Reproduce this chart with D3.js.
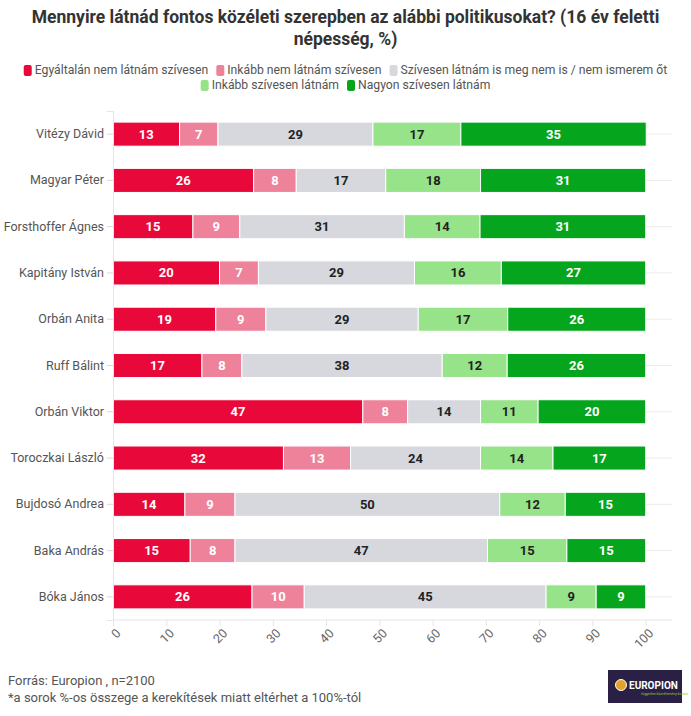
<!DOCTYPE html>
<html>
<head>
<meta charset="utf-8">
<script src="https://cdn.jsdelivr.net/npm/d3@7"></script>
<style>
  body { margin: 0; background: #fff; }
  text { font-family: Roboto, "Noto Sans", sans-serif; }
</style>
</head>
<body>
<div id="chart"></div>
<script>
const politicians = ["Vitézy Dávid", "Magyar Péter", "Forsthoffer Ágnes", "Kapitány István",
    "Orbán Anita", "Ruff Bálint", "Orbán Viktor", "Toroczkai László",
    "Bujdosó Andrea", "Baka András", "Bóka János"]

const seriesNames = ["Egyáltalán nem látnám szívesen", "Inkább nem látnám szívesen",
    "Szívesen látnám is meg nem is / nem ismerem őt", "Inkább szívesen látnám", "Nagyon szívesen látnám"]

const seriesColors = ["#e8083a", "#ee829b", "#d6d8de", "#97e389", "#05a51d"]
const labelColors = ["#fff", "#fff", "#222", "#222", "#fff"]

// values per series, one per politician (same order as above)
const notAtAll = [12.5, 26.4, 15.0, 20.0, 19.3, 16.7, 46.9, 32.0, 13.5, 14.5, 26.1]
const ratherNot = [7.2, 8.0, 8.8, 7.3, 9.4, 7.5, 8.4, 12.6, 9.4, 8.4, 9.8]
const neutral = [29.1, 16.8, 30.9, 29.3, 28.6, 37.6, 13.7, 24.4, 49.7, 47.4, 45.4]
const rather = [16.5, 17.8, 14.2, 16.3, 16.8, 12.2, 10.8, 13.6, 12.3, 14.9, 9.4]
const veryMuch = [34.8, 31.0, 31.1, 27.1, 25.9, 26.0, 20.2, 17.4, 15.1, 14.8, 9.3]

const xTicks = [0, 10, 20, 30, 40, 50, 60, 70, 80, 90, 100]

const W = 691, H = 716
const svg = d3.select("#chart").append("svg")
    .attr("width", W).attr("height", H)

// title
svg.append("text")
    .attr("x", W / 2).attr("y", 23)
    .attr("text-anchor", "middle")
    .attr("font-size", 17.5).attr("font-weight", "bold").attr("fill", "#333")
    .text("Mennyire látnád fontos közéleti szerepben az alábbi politikusokat? (16 év feletti")
svg.append("text")
    .attr("x", W / 2).attr("y", 45)
    .attr("text-anchor", "middle")
    .attr("font-size", 17.5).attr("font-weight", "bold").attr("fill", "#333")
    .text("népesség, %)")

// legend, two centred rows
const legendRows = [[0, 1, 2], [3, 4]]
legendRows.forEach((row, ri) => {
    const g = svg.append("g").attr("transform", `translate(0, ${74 + ri * 15})`)
    let x = 0
    row.forEach(i => {
        const item = g.append("g").attr("transform", `translate(${x}, 0)`)
        item.append("rect")
            .attr("x", 0).attr("y", -9).attr("width", 8).attr("height", 11)
            .attr("rx", 2).attr("fill", seriesColors[i])
        const t = item.append("text")
            .attr("x", 11).attr("y", 0)
            .attr("font-size", 12.2).attr("fill", "#555")
            .text(seriesNames[i])
        x += 11 + t.node().getComputedTextLength() + 8
    })
    const width = x - 8
    g.attr("transform", `translate(${(W - width) / 2}, ${74 + ri * 15})`)
})

const margin = { left: 113, top: 111, bottom: 620 }

const xScale = d3.scaleLinear()
    .domain([0, 100])
    .range([margin.left, 645.7])

const yScale = d3.scaleBand()
    .domain(politicians)
    .range([margin.top, margin.bottom])
    .paddingInner(0.48)
    .paddingOuter(0.24)

const plotRight = xScale(105)

// horizontal row lines
svg.append("g").selectAll("line")
    .data(politicians)
    .join("line")
    .attr("x1", margin.left).attr("x2", plotRight)
    .attr("y1", d => yScale(d) + yScale.bandwidth() / 2)
    .attr("y2", d => yScale(d) + yScale.bandwidth() / 2)
    .attr("stroke", "#ebebeb")

// stacked data
const rows = politicians.map((name, i) => ({
    name,
    s0: notAtAll[i], s1: ratherNot[i], s2: neutral[i], s3: rather[i], s4: veryMuch[i]
}))
const stack = d3.stack().keys(["s0", "s1", "s2", "s3", "s4"])(rows)

const layers = svg.append("g").selectAll("g")
    .data(stack)
    .join("g")
    .attr("fill", (d, i) => seriesColors[i])

layers.selectAll("rect")
    .data(d => d)
    .join("rect")
    .attr("x", d => xScale(d[0]))
    .attr("y", d => yScale(d.data.name))
    .attr("width", d => xScale(d[1]) - xScale(d[0]))
    .attr("height", yScale.bandwidth())
    .attr("stroke", "#fff")
    .attr("stroke-width", 1)

stack.forEach((layer, i) => {
    svg.append("g").selectAll("text")
        .data(layer)
        .join("text")
        .attr("x", d => (xScale(d[0]) + xScale(d[1])) / 2)
        .attr("y", d => yScale(d.data.name) + yScale.bandwidth() / 2 + 4.5)
        .attr("text-anchor", "middle")
        .attr("font-size", 13).attr("font-weight", "bold")
        .attr("fill", labelColors[i])
        .text(d => Math.round(d[1] - d[0]))
})

// y axis
const yAxis = svg.append("g")
    .attr("transform", `translate(${margin.left}, 0)`)
    .call(d3.axisLeft(yScale).tickSize(6).tickPadding(3))
yAxis.select(".domain").attr("stroke", "#e6e6e6")
yAxis.selectAll(".tick line").attr("stroke", "#d8d8d8")
yAxis.selectAll(".tick text")
    .attr("font-size", 12.5).attr("fill", "#555")
    .attr("font-family", "Roboto, sans-serif")

// x axis
const xAxis = svg.append("g")
    .attr("transform", `translate(0, ${margin.bottom})`)
    .call(d3.axisBottom(xScale).tickValues(xTicks).tickSize(6))
xAxis.select(".domain").remove()
xAxis.append("line")
    .attr("x1", margin.left).attr("x2", plotRight)
    .attr("stroke", "#e6e6e6")
xAxis.selectAll(".tick line").attr("stroke", "#e6e6e6")
xAxis.selectAll(".tick text")
    .attr("font-size", 12.5).attr("fill", "#666")
    .attr("font-family", "Roboto, sans-serif")
    .attr("text-anchor", "end")
    .attr("x", 0).attr("y", 0)
    .attr("dy", "0.35em")
    .attr("transform", "translate(5, 11) rotate(-45)")

// footer
svg.append("text")
    .attr("x", 8).attr("y", 685)
    .attr("font-size", 13).attr("fill", "#555")
    .text("Forrás: Europion , n=2100")
svg.append("text")
    .attr("x", 8).attr("y", 702)
    .attr("font-size", 13).attr("fill", "#555")
    .text("*a sorok %-os összege a kerekítések miatt eltérhet a 100%-tól")

// logo box
const logo = svg.append("g").attr("transform", "translate(608, 670)")
logo.append("rect")
    .attr("width", 74).attr("height", 33)
    .attr("fill", "#2a2045")
logo.append("circle")
    .attr("cx", 13).attr("cy", 15).attr("r", 5.5)
    .attr("fill", "#e0a526").attr("stroke", "#fff").attr("stroke-width", 1)
logo.append("text")
    .attr("x", 21).attr("y", 19)
    .attr("font-size", 10).attr("font-weight", "bold").attr("fill", "#fff")
    .text("EUROPION")
logo.append("text")
    .attr("x", 33).attr("y", 25)
    .attr("font-size", 3.5).attr("fill", "#9fc23a")
    .text("független közvélemény-kutató")
</script>
</body>
</html>
